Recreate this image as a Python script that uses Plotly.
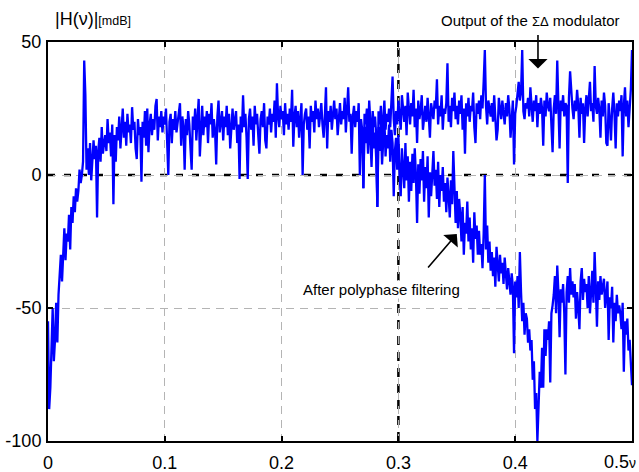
import numpy as np
import plotly.graph_objects as go

# frequency grid (normalised frequency nu), step 0.001
nu_step = 0.001
nu_full = np.round(np.arange(0, 501) * nu_step, 3)

# Output of the Sigma-Delta modulator, |H(nu)| in mdB
sd_output = [
    -55, -88, -80, -60, -50, -70, -62, -48, -63, -45,
    -38, -30, -40, -26, -20, -32, -22, -25, -15, -28,
    -12, -18, -8, -14, -5, -10, -6, 2, -3, 0,
    5, 43, 30, 2, 10, 0, 12, -2, 8, 13,
    6, 11, -16, 9, 14, 5, 18, 8, 12, 15,
    9, 21, 12, 16, 7, 19, -11, 15, 5, 18,
    13, 22, 10, 17, 25, 14, 20, 11, 23, 16,
    19, 12, 25.5, 17, 20, 10, 6, 21, 15, 18,
    -2.5, 20, 14, 24, 11, 25, 8.6, 19, 23, 15,
    21, 17, 26, 28.6, 13, 22, 18, 24, 16, 22,
    19, 25, 14, 0, 20, 23, 12, 21, 17, 24,
    16, 20, 23, 27, 11, 22, 18, 2, 21, 15,
    24, 19, 10, 2, 22, 17, 25, 13, 21, 28.6,
    7, 20, 26, 15, 22, 18, 24, 12, 23, 19,
    27, 14, 21, 17, 4, 22, 28, 16, 20, 24,
    13, 22, 18, 26, 15, 23, 10, 21, 25, 17,
    20, 24, 12, 19, -1.5, 22, 16, 30, 18, 23,
    14, -1.5, 21, 25, 17, 22, 11, 26, 19, 23,
    15, 8, 21, 24, 18, 27, 13, 10, 22, 19,
    25, 16, 23, 20, 28, 14, 34.5, 22, 18, 26,
    21, 24, 15, 27, 19, 23, 17, 25, 20, 32,
    10.6, 22, 26, 18, 24, 14, 21, 27, 0, 19,
    23, 25, 17, 22, 10, 26, 20, 24, 16, 28,
    21, 25, 18, 23, 27, 19, 14, 22, 33, 10,
    24, 20, 26, 17, 23, 28, 21, 25, 15, 22,
    27, 19, 24, 21, 29, 16, 25, 33, 20, 23,
    8, 22, 26, 18, 24, 20, 27, 0, 21, 17,
    -5, 23, 19, 25, 14, 28, 20, 10, 24, 18,
    22, 15, -12, 24, 19, 26, 13, 21, 28, 17,
    23, 20, 25, 18, 27, 37, 21, 15, 24, 19,
    28, 22, 17, 30, 24, 20, 26, 15, 31, 23,
    19, 27, 22, 32, 18, 25, 12, 28, 21, 24,
    30, 17, 23, 26, 20, 29, 22, 14, 27, 24,
    21, 28, 25, 36, 19, 26, 22, 30, 17, 25,
    23, 27, 42, 20, 26, 18, 29, 24, 31, 21,
    26, 19, 28, 23, 30, 17, 25, 8, 27, 22,
    29, 20, 26, 24, 31, 18, 12, 27, 23, 28,
    21, 30, 25, 35, 47, 26, 19, 28, 24, 22,
    27, 20, 30, 23, 13, 17, 29, 25, 21, 28,
    24, 19, 27, 22, 30, 25, 14, 20, 28, 4,
    23, 26, 30, 35, 28, 31, 47, 24, 21, 27,
    25, 29, 22, 33, 26, 20, 28, 24, 30, 18,
    27, 23, 29, 25, 11, 28, 22, 31, 26, 24,
    29, 21, 8.6, 25, 30, 23, 43, 26, 10, 28,
    24, 30, 22, 27, 26, -3, 29, 39, 31, 25,
    21, 28, 24, 32, 26, 14, 29, 23, 27, 12,
    25, 30, 22, 28, 35, 24, 27, 20, 41, 26,
    23, 29, 25, 14, 28, 22, 31, 26, 12, 11,
    27, 21, 13, 25, 31, 23, 10, 27, 22, 28,
    24, 30, 7, 26, 33, 22, 28, 18, 25, 32,
    47,
]

# After polyphase filtering (differs from the modulator output from nu = 0.27)
filt_start = 270
filtered = [
    -5, 18, 12, 20, 8, 22, 14, 3, 19, 10,
    16, 6, -12, 18, 9, 20, 4, 14, 21, 7,
    15, 10, 19, 5, 17, 12, -8, 9, 14, 2,
    15, 0, -8, 10, 3, -5, 12, -2, 7, -10,
    5, -6, 8, -3, 10, 0, -18, 4, -7, 6,
    -2, 9, -10, 3, -5, 7, -16, 1, -8, 4,
    9, -4, 2, -9, 5, -12, 0, -6, 3, -10,
    -3, -14, -1, -8, -16, -2, -11, 9, -7, -18,
    -6, -20, -9, -15, -25, -12, -30, -18, -22, -10,
    -25, -16, -28, -20, -33, -14, -24, -19, -30, -21,
    -30, -26, -35, -22, 0, -28, -19, -33, -25, -36,
    -29, -38, -31, -42, -27, -35, -40, -30, -37, -33,
    -41, -31, -38, -43, -35, -40, -45, -37, -42, -67,
    -40, -46, -38, -50, -29, -44, -55, -48, -60, -52,
    -54, -63, -58, -66, -62, -77, -70, -88, -82, -100,
    -85, -74, -80, -65, -80, -58, -68, -58, -62, -55,
    -78, -52, -49, -45, -38, -52, -34, -44, -61, -43,
    -48, -41, -52, -75, -44, -38, -48, -35, -45, -40,
    -46, -41, -54, -44, -50, -58, -40, -35, -47, -39,
    -44, -41, -50, -38, -52, -45, -36, -48, -29, -42,
    -57, -40, -47, -38, -45, -42, -39, -50, -44, -40,
    -62, -46, -50, -42, -63, -48, -55, -45, -52, -49,
    -52, -58, -48, -74, -55, -60, -54, -66, -62, -70,
    -79,
]
nu_filt = nu_full[filt_start:filt_start + len(filtered)]

x_ticks = [0, 0.1, 0.2, 0.3, 0.4, 0.5]
x_tick_labels = ["0", "0.1", "0.2", "0.3", "0.4", ""]
last_x_label = "0.5"
y_ticks = [-100, -50, 0, 50]
y_tick_labels = ["-100", "-50", "0", "50"]
zero_level = 0
cutoff_nu = 0.3

FONT = "Arial, Liberation Sans, sans-serif"
BLUE = "#0000ff"

fig = go.Figure()
fig.add_trace(go.Scatter(x=nu_full, y=sd_output, mode="lines",
                         line=dict(color=BLUE, width=2.3), showlegend=False))
fig.add_trace(go.Scatter(x=nu_filt, y=filtered, mode="lines",
                         line=dict(color=BLUE, width=2.3), showlegend=False))

# black dashed reference lines
fig.add_shape(type="line", xref="x", yref="y", x0=0, x1=0.5, y0=zero_level, y1=zero_level,
              line=dict(color="black", width=2.5, dash="7px,9px"), layer="below")
fig.add_shape(type="line", xref="x", yref="y", x0=cutoff_nu, x1=cutoff_nu, y0=-100, y1=50,
              line=dict(color="black", width=2.5, dash="9px,7px"), layer="below")

axis_common = dict(showline=True, linecolor="black", linewidth=2, mirror="ticks",
                   ticks="inside", ticklen=5, tickwidth=2, tickcolor="black",
                   showgrid=True, gridcolor="#b4b4b4", gridwidth=1, griddash="8px,6px",
                   zeroline=False, automargin=False,
                   tickfont=dict(family=FONT, size=18, color="black"))

fig.update_xaxes(range=[0, 0.5], tickvals=x_ticks, ticktext=x_tick_labels, ticklabelstandoff=4, **axis_common)
fig.update_yaxes(range=[-100, 50], tickvals=y_ticks, ticktext=y_tick_labels, ticklabelstandoff=1, **axis_common)

fig.update_layout(
    width=639, height=472,
    margin=dict(l=48, r=7, t=42, b=31),
    plot_bgcolor="white", paper_bgcolor="white",
    font=dict(family=FONT, color="black"),
    annotations=[
        dict(xref="paper", yref="paper", x=0.008, y=1.058, xanchor="left", yanchor="middle",
             text="|H(ν)|<span style='font-size:12.5px'>[mdB]</span>", showarrow=False,
             font=dict(family=FONT, size=18, color="black")),
        dict(xref="paper", yref="paper", x=1.0103, y=-0.053, xanchor="right", yanchor="middle",
             text=last_x_label + "<span style='font-size:14px'>ν</span>", showarrow=False,
             font=dict(family=FONT, size=18, color="black")),
        dict(xref="x", yref="paper", x=0.4135, y=1.053, xanchor="center", yanchor="middle",
             text="Output of the <span style='font-size:13px'>ΣΔ</span> modulator", showarrow=False,
             font=dict(family=FONT, size=15, color="black")),
        dict(xref="x", yref="y", x=0.4195, y=40, ax=0, ay=-35, text="", showarrow=True,
             arrowhead=1, arrowsize=2, arrowwidth=1.6, arrowcolor="black"),
        dict(xref="x", yref="y", x=0.2855, y=-42.9, xanchor="center", yanchor="middle",
             text="After polyphase filtering", showarrow=False, bgcolor="white", borderpad=0,
             font=dict(family=FONT, size=15, color="black")),
        dict(xref="x", yref="y", x=0.350, y=-22.2, ax=-30, ay=35, text="", showarrow=True,
             arrowhead=1, arrowsize=2, arrowwidth=1.6, arrowcolor="black"),
    ],
)

fig.write_html("out.html", config={"displayModeBar": False},
               post_script="document.body.style.margin='0';")
